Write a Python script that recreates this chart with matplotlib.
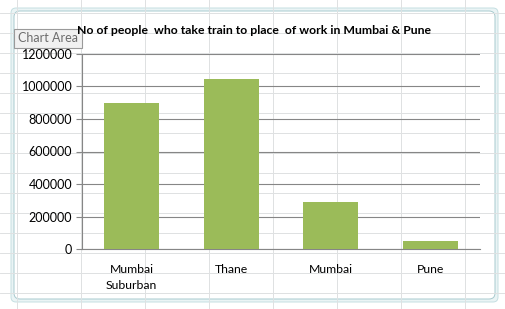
import matplotlib
matplotlib.use("Agg")
import matplotlib.pyplot as plt
from matplotlib.patches import FancyBboxPatch, Rectangle
import numpy as np

categories = ["Mumbai\nSuburban", "Thane", "Mumbai", "Pune"]
values = [898000, 1046000, 289000, 48000]
yticks = [0, 200000, 400000, 600000, 800000, 1000000, 1200000]
title = "No of people  who take train to place  of work in Mumbai & Pune"

W, H = 505, 309
fig = plt.figure(figsize=(W / 100, H / 100), dpi=100)
plt.rcParams['font.family'] = ['Lato', 'DejaVu Sans']

# spreadsheet background
bg = fig.add_axes([0, 0, 1, 1])
bg.set_xlim(0, W)
bg.set_ylim(H, 0)
bg.axis('off')
for x in np.arange(17, W, 64):
    bg.plot([x, x], [0, H], color='#dfe1e2', lw=0.7)
for y in np.arange(13, H, 20):
    bg.plot([0, W], [y, y], color='#dfe1e2', lw=0.7)
# chart frame
bg.add_patch(FancyBboxPatch((11, 8), 487, 294, boxstyle="round,pad=0,rounding_size=5",
                            fc='#eaf4f5', ec='#c5dfe2', lw=0.7))
bg.add_patch(FancyBboxPatch((14, 11), 481, 288, boxstyle="round,pad=0,rounding_size=6",
                            fc='white', ec='#a8cace', lw=0.7))

ax = fig.add_axes([82 / W, 1 - 249 / H, (480 - 82) / W, (249 - 54) / H])
x = np.arange(len(categories))
ax.bar(x, values, width=0.55, color='#9bbb59', zorder=3)
ax.set_xlim(-0.5, len(categories) - 0.5)
ax.set_ylim(0, 1200000)
ax.set_yticks(yticks)
ax.set_yticklabels([str(v) for v in yticks], fontsize=9)
ax.set_xticks(x)
ax.set_xticklabels(categories, fontsize=8.8, linespacing=1.55)
ax.yaxis.grid(True, color='#868686', lw=0.8, zorder=0)
ax.tick_params(axis='y', length=4, color='#868686', pad=3)
ax.tick_params(axis='x', length=0, pad=11)
for s in ['top', 'right']:
    ax.spines[s].set_visible(False)
ax.spines['left'].set_color('#868686')
ax.spines['bottom'].set_color('#868686')
ax.set_facecolor('none')

fig.text(254 / W, 1 - 30 / H, title, ha='center', va='center', fontsize=8.8, fontweight='bold')

# tooltip
bg.add_patch(Rectangle((14, 29), 68, 19, fc='#f1f1f1', ec='#9a9a9a', lw=0.8, zorder=5))
bg.text(48, 38.5, "Chart Area", ha='center', va='center', fontsize=9, color='#6d6d6d', zorder=6)

fig.savefig("out.png", dpi=100)
